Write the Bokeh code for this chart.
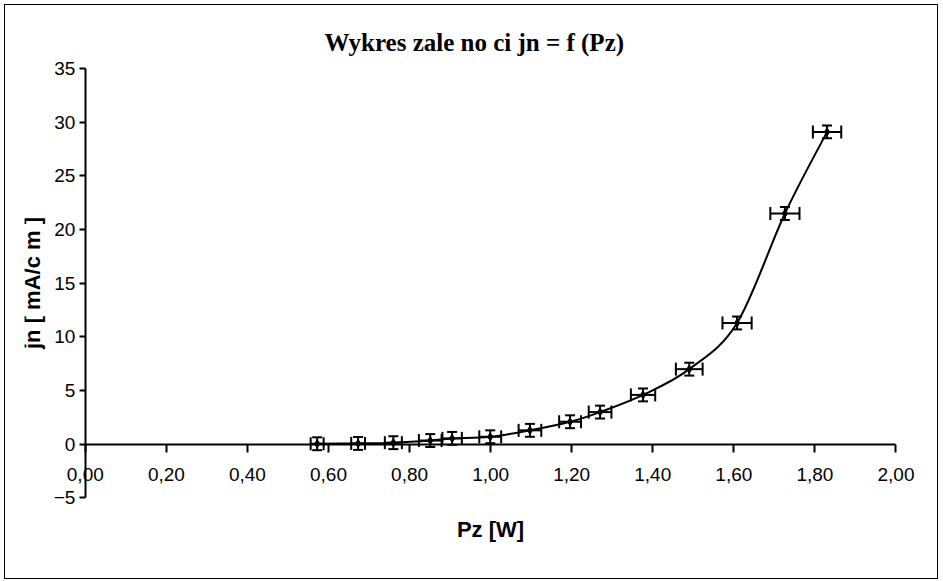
import numpy as np
from bokeh.plotting import figure
from bokeh.models import Range1d, LinearAxis, FixedTicker, Whisker, ColumnDataSource, TeeHead
from bokeh.embed import file_html
from bokeh.resources import INLINE

# ---- data ----
pz = [0.572, 0.673, 0.760, 0.851, 0.905, 0.999, 1.097, 1.196, 1.270, 1.376, 1.490, 1.608, 1.726, 1.830]
jn = [0.05, 0.08, 0.15, 0.35, 0.55, 0.70, 1.30, 2.10, 3.00, 4.60, 7.00, 11.30, 21.50, 29.10]
pz_err = [0.016, 0.017, 0.021, 0.028, 0.024, 0.027, 0.028, 0.027, 0.028, 0.030, 0.033, 0.036, 0.036, 0.035]
jn_err = [0.6, 0.6, 0.6, 0.6, 0.6, 0.6, 0.6, 0.6, 0.6, 0.6, 0.6, 0.6, 0.6, 0.6]

x_ticks = [0.0, 0.2, 0.4, 0.6, 0.8, 1.0, 1.2, 1.4, 1.6, 1.8, 2.0]
x_tick_labels = ["0,00", "0,20", "0,40", "0,60", "0,80", "1,00", "1,20", "1,40", "1,60", "1,80", "2,00"]
y_ticks = [-5, 0, 5, 10, 15, 20, 25, 30, 35]
x_axis_bounds = (0, 2)
y_axis_bounds = (-5, 35)

title_text = "Wykres zale  no  ci jn = f (Pz)"
x_label = "Pz [W]"
y_label = "jn [ mA/c m ]"

FONT = "Liberation Sans"

# ranges padded around the axes so that tick labels are not clipped
p = figure(width=932, height=573, x_range=Range1d(-0.15, 2.1), y_range=Range1d(-9.8, 35.75),
           output_backend="svg", toolbar_location=None,
           x_axis_location=None, y_axis_location=None,
           min_border_left=19, min_border_right=1, min_border_top=55, min_border_bottom=29)
p.margin = (5, 0, 0, 5)
p.styles = {"outline": "1px solid black"}
p.outline_line_color = None
p.xgrid.visible = False
p.ygrid.visible = False
p.background_fill_color = "white"
p.border_fill_color = "white"

# title
p.title.text = title_text
p.title.align = "center"
p.title.text_font = "Liberation Serif"
p.title.text_font_style = "bold"
p.title.text_font_size = "25px"
p.title.text_color = "black"
p.title.offset = -15
p.title.standoff = 10

# y axis crossing at x = 0
yax = LinearAxis(ticker=FixedTicker(ticks=y_ticks))
yax.fixed_location = 0
yax.bounds = y_axis_bounds
yax.axis_label = y_label
yax.axis_label_text_font = FONT
yax.axis_label_text_font_style = "bold"
yax.axis_label_text_font_size = "22px"
yax.axis_label_text_color = "black"
yax.axis_label_standoff = 6
yax.major_label_text_font = FONT
yax.major_label_text_font_size = "19px"
yax.major_label_text_color = "black"
yax.major_label_standoff = 4
yax.major_tick_out = 6
yax.major_tick_in = 0
yax.minor_tick_out = 0
yax.minor_tick_in = 0
yax.axis_line_width = 2
yax.major_tick_line_width = 2
p.add_layout(yax, "left")

# x axis crossing at y = 0
xax = LinearAxis(ticker=FixedTicker(ticks=x_ticks))
xax.fixed_location = 0
xax.bounds = x_axis_bounds
xax.major_label_overrides = {t: l for t, l in zip(x_ticks, x_tick_labels)}
xax.major_label_text_font = FONT
xax.major_label_text_font_size = "19px"
xax.major_label_text_color = "black"
xax.major_label_standoff = 16
xax.major_tick_out = 8
xax.major_tick_in = 0
xax.minor_tick_out = 0
xax.minor_tick_in = 0
xax.axis_line_width = 2
xax.major_tick_line_width = 2
xax.axis_label = x_label
xax.axis_label_text_font = FONT
xax.axis_label_text_font_style = "bold"
xax.axis_label_text_font_size = "22px"
xax.axis_label_text_color = "black"
xax.axis_label_standoff = 32
p.add_layout(xax, "below")

# smoothed line (Catmull-Rom style bezier through the data)
X = np.array(pz)
Y = np.array(jn)
n = len(X)
Xp = np.concatenate([[X[0]], X, [X[-1]]])
Yp = np.concatenate([[Y[0]], Y, [Y[-1]]])
x0 = X[:-1]; y0 = Y[:-1]; x1 = X[1:]; y1 = Y[1:]
cx0 = x0 + (Xp[2:n + 1] - Xp[0:n - 1]) / 6.0
cy0 = y0 + (Yp[2:n + 1] - Yp[0:n - 1]) / 6.0
cx1 = x1 - (Xp[3:n + 2] - Xp[1:n]) / 6.0
cy1 = y1 - (Yp[3:n + 2] - Yp[1:n]) / 6.0
p.bezier(x0=x0, y0=y0, x1=x1, y1=y1, cx0=cx0, cy0=cy0, cx1=cx1, cy1=cy1,
         line_color="black", line_width=2)

src = ColumnDataSource(dict(
    x=pz, y=jn,
    xl=[a - b for a, b in zip(pz, pz_err)], xu=[a + b for a, b in zip(pz, pz_err)],
    yl=[a - b for a, b in zip(jn, jn_err)], yu=[a + b for a, b in zip(jn, jn_err)],
))

p.add_layout(Whisker(source=src, base="y", lower="xl", upper="xu", dimension="width",
                     line_color="black", line_width=2,
                     lower_head=TeeHead(size=13, line_width=2, line_color="black"),
                     upper_head=TeeHead(size=13, line_width=2, line_color="black")))
p.add_layout(Whisker(source=src, base="x", lower="yl", upper="yu", dimension="height",
                     line_color="black", line_width=2,
                     lower_head=TeeHead(size=10, line_width=2, line_color="black"),
                     upper_head=TeeHead(size=10, line_width=2, line_color="black")))

p.scatter("x", "y", source=src, marker="diamond", size=8, fill_color="black", line_color="black")

open("out.html", "w").write(file_html(p, INLINE))
